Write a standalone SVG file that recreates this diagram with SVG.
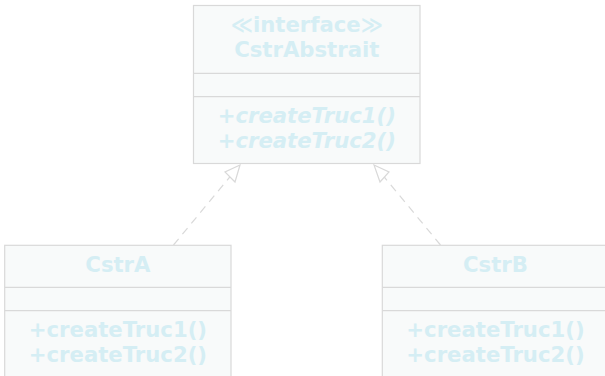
<svg xmlns="http://www.w3.org/2000/svg" width="605" height="376" viewBox="0 0 605 376">
  <style>
    .box { fill: #f8fafa; stroke: #d9d9d9; stroke-width: 1.2; }
    .sep { stroke: #d9d9d9; stroke-width: 1.2; }
    .t { font-family: "DejaVu Sans", sans-serif; font-weight: bold; font-size: 21.2px; fill: #d5eef4; text-anchor: middle; }
    .it { font-style: italic; }
    .dep { fill: none; stroke: #d9d9d9; stroke-width: 1.2; stroke-dasharray: 8 6; }
    .head { fill: #ffffff; stroke: #d9d9d9; stroke-width: 1.2; }
  </style>
  <rect width="605" height="376" fill="#ffffff"/>

  <g id="connectors">
    <line class="dep" x1="173.5" y1="245" x2="231" y2="175.5"/>
    <polygon class="head" points="240,165 225,172 235,182"/>
    <line class="dep" x1="440.5" y1="245" x2="383" y2="175.5"/>
    <polygon class="head" points="374,165 389,172 380,182"/>
  </g>

  <g id="CstrAbstrait">
    <rect class="box" x="193.5" y="5.5" width="226.5" height="158"/>
    <line class="sep" x1="193.5" y1="73.3" x2="420" y2="73.3"/>
    <line class="sep" x1="193.5" y1="96.7" x2="420" y2="96.7"/>
    <text class="t" x="306.8" y="31.5">≪interface≫</text>
    <text class="t" x="306.8" y="56.5">CstrAbstrait</text>
    <text class="t it" x="306.8" y="123">+createTruc1()</text>
    <text class="t it" x="306.8" y="148">+createTruc2()</text>
  </g>

  <g id="CstrA">
    <rect class="box" x="4.7" y="245.3" width="226.3" height="140"/>
    <line class="sep" x1="4.7" y1="287.3" x2="231" y2="287.3"/>
    <line class="sep" x1="4.7" y1="310.7" x2="231" y2="310.7"/>
    <text class="t" x="117.9" y="271.5">CstrA</text>
    <text class="t" x="117.9" y="336.5">+createTruc1()</text>
    <text class="t" x="117.9" y="361.5">+createTruc2()</text>
  </g>

  <g id="CstrB">
    <rect class="box" x="382.3" y="245.3" width="226.3" height="140"/>
    <line class="sep" x1="382.3" y1="287.3" x2="608.6" y2="287.3"/>
    <line class="sep" x1="382.3" y1="310.7" x2="608.6" y2="310.7"/>
    <text class="t" x="495.5" y="271.5">CstrB</text>
    <text class="t" x="495.5" y="336.5">+createTruc1()</text>
    <text class="t" x="495.5" y="361.5">+createTruc2()</text>
  </g>
</svg>
